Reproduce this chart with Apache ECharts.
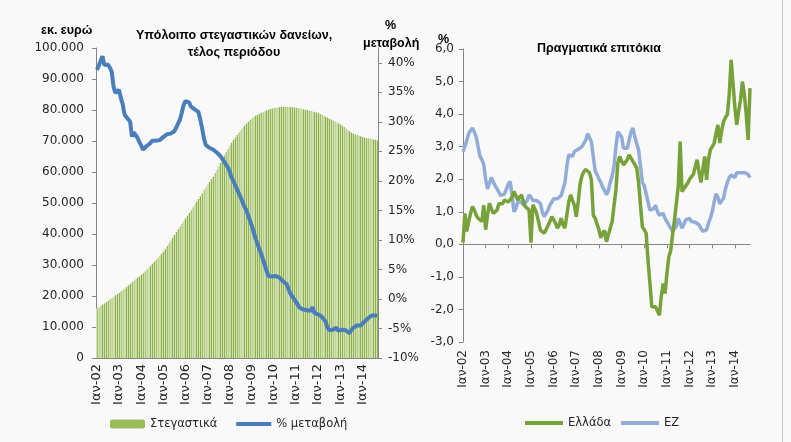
<!DOCTYPE html>
<html><head><meta charset="utf-8">
<script src="https://cdn.jsdelivr.net/npm/echarts@6/dist/echarts.min.js"></script>
<style>html,body{margin:0;padding:0;background:#f9f9f9}#c{width:791px;height:442px}</style>
</head><body><div id="c"></div>
<script>
// ---- data ----
const monthNames = ['Ιαν','Φεβ','Μαρ','Απρ','Μαϊ','Ιουν','Ιουλ','Αυγ','Σεπ','Οκτ','Νοε','Δεκ'];
const years = ['02','03','04','05','06','07','08','09','10','11','12','13','14'];
const monthCount = 153; // Jan 2002 - Sep 2014

// Housing loans outstanding, end of period (million euro)
const housingLoans = [
16000,16400,16800,17200,17600,18000,18500,18900,19300,19800,20200,20600,
21000,21500,22000,22400,22900,23400,23900,24400,24900,25400,25900,26300,
26800,27300,27900,28500,29100,29700,30400,31000,31600,32300,33000,33600,
34300,35200,36100,37000,37900,38800,39700,40600,41500,42400,43300,44100,
45000,45900,46800,47700,48600,49500,50400,51300,52200,53100,54100,55000,
56000,56800,57700,58500,59600,60700,61900,63000,64200,65300,66400,67500,
68500,69400,70300,71100,71900,72700,73500,74200,74900,75600,76200,76800,
77300,77700,78100,78400,78700,79000,79300,79600,79900,80100,80300,80500,
80600,80700,80800,80900,81000,81000,81000,81000,81000,80900,80900,80800,
80700,80600,80500,80400,80200,80100,80000,79800,79700,79500,79300,79200,
79000,78700,78400,78100,77800,77500,77200,76900,76600,76300,76000,75600,
75300,74900,74500,74000,73500,73100,72700,72400,72100,71900,71700,71500,
71300,71100,71000,70900,70800,70600,70500,70400,70200
];
// % change (yoy)
const loanChange = [
38.8,39.5,40.3,41.1,39.6,39.4,39.7,39.2,38.5,36.0,34.9,35.2,
35.4,34.0,33.0,31.2,30.8,30.4,30.05,27.5,28.2,28.4,27.3,26.6,
26.0,25.3,25.6,25.9,26.1,26.4,26.8,27.0,26.8,26.7,26.9,27.2,
27.4,27.6,27.9,28.1,28.0,28.1,28.4,29.0,29.7,30.3,31.5,32.8,
33.5,33.7,33.3,32.6,32.4,32.1,32.0,31.7,30.5,29.0,27.3,26.1,
25.8,25.6,25.5,25.3,25.0,24.8,24.6,24.2,23.7,23.3,22.8,22.3,
21.6,20.6,20.0,19.3,18.6,17.9,17.2,16.4,15.6,15.1,14.2,13.3,
12.4,11.4,10.3,9.4,8.6,7.7,6.8,5.8,4.8,3.9,3.8,3.8,
3.7,3.9,3.8,3.6,3.3,3.0,2.8,2.5,1.6,0.9,0.4,0.0,
-0.5,-1.0,-1.5,-1.7,-1.8,-1.8,-1.9,-2.1,-2.0,-1.4,-2.4,-2.4,
-2.6,-2.7,-3.0,-3.3,-3.8,-4.8,-5.3,-5.25,-5.2,-5.0,-4.9,-5.4,
-5.3,-5.2,-5.4,-5.3,-5.6,-5.8,-5.3,-4.9,-4.7,-4.5,-4.4,-4.5,
-4.6,-3.9,-3.7,-3.3,-3.0,-2.8,-2.7,-2.8,-2.8
];
// Real interest rates (%)
const greeceRate = [
0.05,0.95,0.4,0.7,0.95,1.16,1.05,0.9,0.8,0.75,0.7,1.2,
0.45,0.9,1.26,1.1,0.95,0.9,1.05,1.25,1.3,1.25,1.36,1.35,
1.3,1.31,1.45,1.62,1.5,1.36,1.45,1.52,1.3,1.16,1.1,1.06,
0.05,1.21,1.1,0.95,0.7,0.44,0.38,0.34,0.45,0.5,0.7,0.85,
0.75,0.65,0.5,0.6,0.8,0.6,0.5,0.9,1.3,1.52,1.35,1.2,
0.85,1.3,1.85,2.1,2.23,2.3,2.34,2.2,1.98,0.9,0.8,0.75,
0.45,0.2,0.35,0.42,0.08,0.3,0.5,0.7,1.2,1.67,2.5,2.7,
2.55,2.44,2.39,2.6,2.75,2.65,2.6,2.45,2.35,1.9,1.2,0.54,
0.45,0.34,-0.5,-1.2,-1.92,-1.95,-1.92,-1.95,-2.18,-1.6,-1.2,-1.51,
-0.9,-0.38,-0.2,0.3,0.75,1.26,1.77,3.16,1.62,1.65,1.8,1.88,
2.0,2.08,2.15,2.18,2.6,2.23,1.9,1.88,2.7,1.98,2.6,2.9,
3.0,3.11,3.4,3.67,3.11,3.5,3.77,3.9,3.98,4.6,5.67,4.95,
4.2,3.67,4.1,4.44,5.0,4.6,4.0,3.21,4.8
];
const ezRate = [
2.85,3.0,3.2,3.4,3.5,3.57,3.45,3.3,3.0,2.7,2.6,2.45,
2.0,1.7,1.75,2.05,2.0,1.8,1.7,1.6,1.5,1.45,1.55,1.6,
1.85,1.93,1.5,1.0,1.1,1.3,1.36,1.3,1.2,1.15,1.35,1.52,
1.45,1.35,1.3,1.35,1.3,1.25,1.0,0.85,0.9,1.05,1.2,1.3,
1.4,1.46,1.4,1.45,1.5,1.7,1.9,2.4,2.75,2.72,2.7,2.85,
2.9,2.92,2.95,3.0,3.1,3.2,3.4,3.35,3.15,2.7,2.25,2.15,
2.0,1.9,1.75,1.65,1.52,1.65,1.9,2.1,2.4,3.0,3.46,3.45,
3.3,2.95,2.9,2.95,3.2,3.45,3.57,3.3,3.1,2.9,2.4,1.9,
1.8,1.75,1.3,1.05,1.0,1.1,1.2,1.0,0.9,0.92,0.95,0.8,
0.7,0.6,0.5,0.4,0.48,0.55,0.8,0.85,0.5,0.55,0.75,0.78,
0.8,0.7,0.65,0.68,0.7,0.6,0.5,0.4,0.4,0.45,0.65,0.8,
1.0,1.3,1.55,1.45,1.25,1.3,1.42,1.7,1.9,2.05,2.13,2.1,
2.05,2.2,2.25,2.2,2.18,2.2,2.18,2.15,2.05
];
const leftTicks = [0,10000,20000,30000,40000,50000,60000,70000,80000,90000,100000];

// ---- build ----
const categories = [];
for (const y of years) for (const m of monthNames) {
  if (categories.length < monthCount) categories.push(m + '-' + y);
}
const FONT = 'DejaVu Sans';
const BFONT = 'Liberation Sans';
const TXT = '#262626';
const AX = '#868686';
const janOnly = (i) => i % 12 === 0;
const boldText = {fontFamily: BFONT, fontSize: 12.5, fontWeight: 'bold', color: '#000'};

const chart = echarts.init(document.getElementById('c'), null, {renderer: 'canvas'});
const option = {
  backgroundColor: '#f9f9f9',
  animation: false,
  textStyle: {fontFamily: FONT, color: TXT},
  title: [
    {text: 'Υπόλοιπο στεγαστικών δανείων,\nτέλος περιόδου', left: 229, top: 22, textAlign: 'center',
     textStyle: Object.assign({lineHeight: 17, align: 'center'}, boldText)},
    {text: 'εκ. ευρώ', left: 36, top: 19, textStyle: boldText},
    {text: '%', left: 380, top: 14, textStyle: boldText},
    {text: 'μεταβολή', left: 358, top: 32, textStyle: boldText},
    {text: 'Πραγματικά επιτόκια', left: 594, top: 37, textAlign: 'center', textStyle: boldText},
    {text: '%', left: 433, top: 28, textStyle: boldText}
  ],
  legend: [
    {left: 105, top: 413, itemWidth: 35, itemHeight: 9, itemGap: 17,
     textStyle: {fontFamily: FONT, fontSize: 11.5, color: TXT},
     data: [
       {name: 'Στεγαστικά', itemStyle: {color: '#9bbb59'}},
       {name: '% μεταβολή', itemStyle: {opacity: 0}, lineStyle: {width: 4, color: '#4a7ebb'}}
     ]},
    {left: 518, top: 412, itemWidth: 38, itemHeight: 9, itemGap: 8,
     textStyle: {fontFamily: FONT, fontSize: 11.5, color: TXT},
     data: [
       {name: 'Ελλάδα', itemStyle: {opacity: 0}, lineStyle: {width: 4, color: '#77a139'}},
       {name: 'EZ', itemStyle: {opacity: 0}, lineStyle: {width: 4, color: '#92acd8'}}
     ]}
  ],
  grid: [
    {left: 96, top: 48, width: 282, height: 310},
    {left: 463, top: 49, width: 287, height: 293}
  ],
  xAxis: [
    {type: 'category', gridIndex: 0, data: categories, boundaryGap: true,
     axisLine: {lineStyle: {color: AX}}, axisTick: {interval: (i) => janOnly(i), alignWithLabel: true, length: 4, lineStyle: {color: AX}},
     axisLabel: {interval: (i) => janOnly(i), rotate: 90, fontSize: 13, color: TXT, fontFamily: FONT, margin: 6}},
    {type: 'category', gridIndex: 1, data: categories, boundaryGap: false,
     axisLine: {onZero: true, lineStyle: {color: AX}}, axisTick: {interval: (i) => janOnly(i), length: 4, lineStyle: {color: AX}},
     axisLabel: {show: false}},
    {type: 'category', gridIndex: 1, data: categories, boundaryGap: false, position: 'bottom',
     axisLine: {show: false, onZero: false}, axisTick: {show: false},
     axisLabel: {interval: (i) => janOnly(i), rotate: 90, fontSize: 12, color: TXT, fontFamily: FONT, margin: 8}}
  ],
  yAxis: [
    {type: 'value', gridIndex: 0, min: leftTicks[0], max: leftTicks[leftTicks.length - 1], interval: 10000,
     splitLine: {show: false}, axisLine: {show: true, lineStyle: {color: AX}}, axisTick: {show: true, length: 4, lineStyle: {color: AX}},
     axisLabel: {fontSize: 12, color: TXT, fontFamily: FONT, margin: 12,
       formatter: (v) => v === 0 ? '0' : String(v).replace(/\B(?=(\d{3})+(?!\d))/g, '.')}},
    {type: 'value', gridIndex: 0, position: 'right', min: -10, max: 42.5, interval: 5,
     splitLine: {show: false}, axisLine: {show: true, lineStyle: {color: AX}}, axisTick: {show: true, length: 4, lineStyle: {color: AX}},
     axisLabel: {fontSize: 12, color: TXT, fontFamily: FONT, margin: 10, showMaxLabel: false,
       formatter: (v) => (Math.abs(v % 5) < 1e-9 ? v + '%' : '')}},
    {type: 'value', gridIndex: 1, min: -3, max: 6, interval: 1,
     splitLine: {show: false}, axisLine: {show: true, lineStyle: {color: AX}}, axisTick: {show: true, length: 4, lineStyle: {color: AX}},
     axisLabel: {fontSize: 12, color: TXT, fontFamily: FONT, margin: 9, formatter: (v) => v.toFixed(1).replace('.', ',')}}
  ],
  series: [
    {name: 'Στεγαστικά', type: 'bar', xAxisIndex: 0, yAxisIndex: 0, data: housingLoans, barCategoryGap: '0%',
     itemStyle: {color: new echarts.graphic.LinearGradient(0, 0, 1, 0, [
       {offset: 0, color: '#cfdfae'}, {offset: 0.5, color: '#cfdfae'},
       {offset: 0.5, color: '#8db24b'}, {offset: 1, color: '#8db24b'}])}},
    {name: '% μεταβολή', type: 'line', xAxisIndex: 0, yAxisIndex: 1, data: loanChange, symbol: 'none',
     lineStyle: {color: '#4a7ebb', width: 4}, itemStyle: {color: '#4a7ebb'}},
    {name: 'Ελλάδα', type: 'line', xAxisIndex: 1, yAxisIndex: 2, data: greeceRate, symbol: 'none', z: 3,
     lineStyle: {color: '#77a139', width: 3.5}, itemStyle: {color: '#77a139'}},
    {name: 'EZ', type: 'line', xAxisIndex: 1, yAxisIndex: 2, data: ezRate, symbol: 'none', z: 2,
     lineStyle: {color: '#92acd8', width: 3.5}, itemStyle: {color: '#92acd8'}}
  ],
  graphic: [
    {type: 'line', shape: {x1: 782.5, y1: 0, x2: 782.5, y2: 442}, style: {stroke: '#c8c8c8', lineWidth: 1}, silent: true}
  ]
};
chart.setOption(option);
</script>
</body></html>
